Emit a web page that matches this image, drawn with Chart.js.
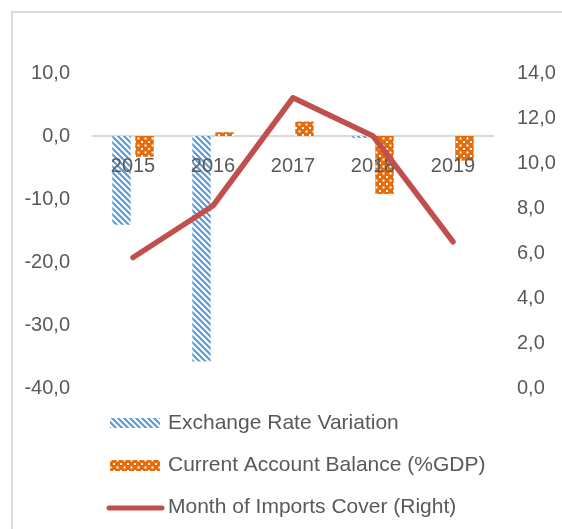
<!DOCTYPE html>
<html>
<head>
<meta charset="utf-8">
<script src="https://cdn.jsdelivr.net/npm/chart.js@4"></script>
<style>
html,body{margin:0;padding:0;background:#fff;}
#wrap{position:absolute;left:0;top:0;width:562px;height:529px;}
</style>
</head>
<body>
<div id="wrap"><canvas id="c" width="562" height="529"></canvas></div>
<script>
const categories = ['2015', '2016', '2017', '2018', '2019'];
const exchangeRateVariation = [-14.1, -35.8, 0, -0.3, 0];
const currentAccountBalance = [-3.3, 0.6, 2.3, -9.2, -3.9];
const monthsImportsCover = [5.8, 8.1, 12.9, 11.2, 6.5];
const seriesNames = ['Exchange Rate Variation', 'Current Account Balance (%GDP)', 'Month of Imports Cover (Right)'];
const leftTicks = { min: -40, max: 10, step: 10 };
const rightTicks = { min: 0, max: 14, step: 2 };

const FONT = '"Liberation Sans", Arial, sans-serif';
const TEXT = '#595959';
const BLUE = '#5B9BD5';
const ORANGE = '#E46C0A';
const RED = '#C0504D';

function stripePattern() {
  const s = 6, c = document.createElement('canvas');
  c.width = s; c.height = s;
  const x = c.getContext('2d');
  x.fillStyle = '#fff'; x.fillRect(0, 0, s, s);
  x.strokeStyle = BLUE; x.lineWidth = 2.2;
  x.beginPath();
  x.moveTo(-1, -1); x.lineTo(s + 1, s + 1);
  x.moveTo(-2, s - 2); x.lineTo(2, s + 2);
  x.moveTo(s - 2, -2); x.lineTo(s + 2, 2);
  x.stroke();
  return x.createPattern(c, 'repeat');
}
function dotPattern() {
  const s = 7, c = document.createElement('canvas');
  c.width = s; c.height = s;
  const x = c.getContext('2d');
  x.fillStyle = ORANGE; x.fillRect(0, 0, s, s);
  x.fillStyle = '#fff';
  x.fillRect(1, 1, 2, 2);
  x.fillRect(4.5, 4.5, 2, 2);
  return x.createPattern(c, 'repeat');
}
const stripes = stripePattern();
const dots = dotPattern();

let drawingLineLate = false;
const decorPlugin = {
  id: 'decor',
  beforeDraw(chart) {
    const ctx = chart.ctx;
    ctx.save();
    ctx.strokeStyle = '#D9D9D9';
    ctx.lineWidth = 2;
    ctx.beginPath();
    ctx.moveTo(12, 529); ctx.lineTo(12, 12); ctx.lineTo(562, 12);
    ctx.stroke();
    ctx.restore();
  },
  beforeDatasetDraw(chart, args) {
    if (args.index === 0 && !drawingLineLate) return false;
  },
  afterDraw(chart) {
    const ctx = chart.ctx;
    // draw the line series on top of the category labels
    drawingLineLate = true;
    const meta = chart.getDatasetMeta(0);
    ctx.save();
    meta.controller.draw();
    ctx.restore();
    drawingLineLate = false;

    ctx.save();
    ctx.font = '21px ' + FONT;
    ctx.textBaseline = 'middle';
    ctx.textAlign = 'left';
    const rows = [423, 465, 507];
    ctx.fillStyle = stripes;
    ctx.fillRect(110, 418, 50, 10);
    ctx.fillStyle = dots;
    ctx.fillRect(110, 460, 50, 11);
    ctx.strokeStyle = RED; ctx.lineWidth = 5; ctx.lineCap = 'round';
    ctx.beginPath(); ctx.moveTo(109, 508); ctx.lineTo(162, 508); ctx.stroke();
    ctx.fillStyle = TEXT;
    seriesNames.forEach((n, i) => ctx.fillText(n, 168, rows[i]));
    ctx.restore();
  }
};

new Chart(document.getElementById('c'), {
  type: 'bar',
  data: {
    labels: categories,
    datasets: [
      {
        type: 'line', label: seriesNames[2], data: monthsImportsCover, yAxisID: 'y1',
        borderColor: RED, borderWidth: 5.5, pointRadius: 0, tension: 0,
        borderCapStyle: 'round', borderJoinStyle: 'round', order: 0
      },
      {
        label: seriesNames[0], data: exchangeRateVariation, yAxisID: 'y',
        backgroundColor: stripes, borderWidth: 0, order: 1,
        categoryPercentage: 0.575, barPercentage: 0.8
      },
      {
        label: seriesNames[1], data: currentAccountBalance, yAxisID: 'y',
        backgroundColor: dots, borderWidth: 0, order: 1,
        categoryPercentage: 0.575, barPercentage: 0.8
      }
    ]
  },
  options: {
    responsive: false,
    animation: false,
    devicePixelRatio: 1,
    layout: { padding: { left: 0, right: 0, top: 73, bottom: 141 } },
    plugins: { legend: { display: false }, tooltip: { enabled: false } },
    scales: {
      x: {
        position: { y: 0 },
        grid: { display: false, drawTicks: false, z: -1 },
        border: { display: true, color: '#D9D9D9', width: 2, z: -1 },
        ticks: { z: 1, color: TEXT, font: { family: FONT, size: 20 }, padding: 18, maxRotation: 0 }
      },
      y: {
        position: 'left',
        min: leftTicks.min, max: leftTicks.max,
        grid: { display: false, drawTicks: false },
        border: { display: false },
        ticks: {
          stepSize: leftTicks.step, color: TEXT, font: { family: FONT, size: 20 }, padding: 23,
          callback: v => v.toFixed(1).replace('.', ',')
        },
        afterFit: s => { s.width = 93; }
      },
      y1: {
        position: 'right',
        min: rightTicks.min, max: rightTicks.max,
        grid: { display: false, drawTicks: false },
        border: { display: false },
        ticks: {
          stepSize: rightTicks.step, color: TEXT, font: { family: FONT, size: 20 }, padding: 24,
          callback: v => v.toFixed(1).replace('.', ',')
        },
        afterFit: s => { s.width = 69; }
      }
    }
  },
  plugins: [decorPlugin]
});
</script>
</body>
</html>
